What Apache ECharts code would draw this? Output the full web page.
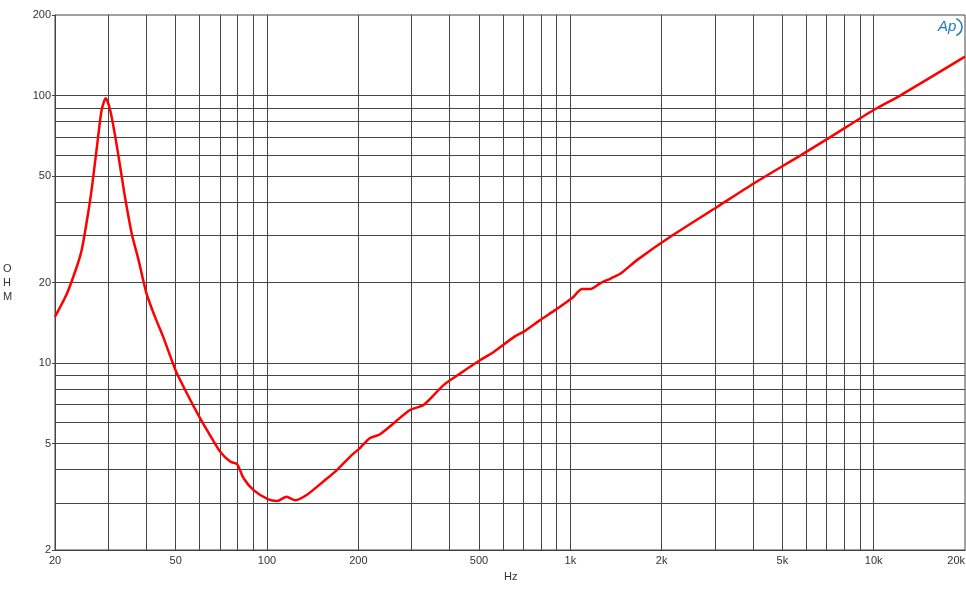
<!DOCTYPE html>
<html>
<head>
<meta charset="utf-8">
<script src="https://cdn.jsdelivr.net/npm/echarts@6/dist/echarts.min.js"></script>
<style>html,body{margin:0;padding:0;background:#fff}#c{width:966px;height:600px}</style>
</head>
<body>
<div id="c"></div>
<script>
var freq = [20, 21.9, 23.6, 24.5, 25.4, 26.4, 27.5, 28.5, 29.4, 30.4, 31.6, 32.8, 34.0, 35.8, 37.7, 40.0, 42.6, 45.5, 49.9, 54.4, 60.2, 65.8, 70.1, 75.6, 79.6, 83.7, 90.3, 101, 108, 116, 124, 135, 153, 170, 188, 202, 218, 236, 296, 328, 382, 434, 505, 559, 651, 702, 797, 893, 1014, 1094, 1166, 1258, 1357, 1464, 1662, 2142, 3054, 4034, 5758, 7238, 10000, 12300, 20000];
var ohm = [14.9, 18.2, 22.9, 26.5, 33.3, 44.3, 64.4, 88.3, 97.6, 88.3, 70.2, 54.2, 41.9, 30.5, 24.3, 18.3, 15.0, 12.5, 9.42, 7.71, 6.21, 5.23, 4.66, 4.28, 4.19, 3.71, 3.35, 3.09, 3.05, 3.16, 3.07, 3.21, 3.60, 3.98, 4.47, 4.80, 5.23, 5.42, 6.67, 6.97, 8.27, 9.15, 10.26, 11.0, 12.5, 13.1, 14.5, 15.8, 17.5, 18.9, 18.9, 19.9, 20.7, 21.6, 24.3, 29.7, 38.4, 47.0, 59.9, 70.2, 88.3, 100.4, 139.7];
var xTickLabels = [20, 50, 100, 200, 500, 1000, 2000, 5000, 10000, 20000];
var yTickLabels = [2, 5, 10, 20, 50, 100, 200];
var xGridLines = [30, 40, 50, 60, 70, 80, 90, 100, 200, 300, 400, 500, 600, 700, 800, 900, 1000, 2000, 3000, 4000, 5000, 6000, 7000, 8000, 9000, 10000];
var yGridLines = [3, 4, 5, 6, 7, 8, 9, 10, 20, 30, 40, 50, 60, 70, 80, 90, 100];

var chart = echarts.init(document.getElementById('c'), null, {renderer: 'canvas'});
var pts = freq.map(function (f, i) { return [f, ohm[i]]; });
var gridData = xGridLines.map(function (v) { return {xAxis: v}; })
  .concat(yGridLines.map(function (v) { return {yAxis: v}; }));

function fmtX(v) {
  var r = Math.round(v);
  return r >= 1000 ? (r / 1000) + 'k' : String(r);
}

chart.setOption({
  animation: false,
  backgroundColor: '#ffffff',
  grid: {left: 55, right: 1, top: 15, bottom: 50, show: true, borderColor: '#444', borderWidth: 1, containLabel: false, outerBoundsMode: 'none'},
  xAxis: {
    type: 'log', logBase: 10, min: 20, max: 20000,
    axisLine: {show: true, lineStyle: {color: '#444', width: 1}},
    axisTick: {show: false},
    splitLine: {show: false},
    minorTick: {show: false},
    axisLabel: {customValues: xTickLabels, formatter: fmtX, color: '#333', fontFamily: 'Liberation Sans, Arial', fontSize: 11, margin: 5, showMinLabel: true, showMaxLabel: true, hideOverlap: false,
      alignMaxLabel: 'right'}
  },
  yAxis: {
    type: 'log', logBase: 10, min: 2, max: 200,
    axisLine: {show: true, lineStyle: {color: '#444', width: 1}},
    axisTick: {show: true, customValues: yTickLabels, length: 3, lineStyle: {color: '#444'}},
    splitLine: {show: false},
    minorTick: {show: false},
    axisLabel: {customValues: yTickLabels, formatter: function (v) { return String(Math.round(v)); }, color: '#333', fontFamily: 'Liberation Sans, Arial', fontSize: 11, margin: 4, showMinLabel: true, showMaxLabel: true, hideOverlap: false}
  },
  series: [{
    type: 'line',
    data: pts,
    smooth: 0.25,
    showSymbol: false,
    symbol: 'none',
    z: 5,
    lineStyle: {color: '#ff0000', width: 2.5},
    markLine: {
      silent: true,
      symbol: ['none', 'none'],
      label: {show: false},
      lineStyle: {color: '#444', type: 'solid', width: 1},
      emphasis: {disabled: true},
      data: gridData,
      z: 1
    }
  }],
  graphic: [
    {type: 'text', left: 3, top: 262, style: {text: 'O\nH\nM', fill: '#333', font: '11px Liberation Sans, Arial', lineHeight: 14, align: 'center'}},
    {type: 'text', left: 504, top: 571, style: {text: 'Hz', fill: '#333', font: '11px Liberation Sans, Arial'}},
    {type: 'text', left: 938, top: 19, style: {text: 'Ap', fill: '#1f78c1', font: 'italic 15px Liberation Sans, Arial'}},
    {type: 'arc', shape: {cx: 953, cy: 27, r: 9, startAngle: -Math.PI / 2.6, endAngle: Math.PI / 2.6}, style: {stroke: '#1f78c1', lineWidth: 1.5, fill: null}}
  ]
});
</script>
</body>
</html>
